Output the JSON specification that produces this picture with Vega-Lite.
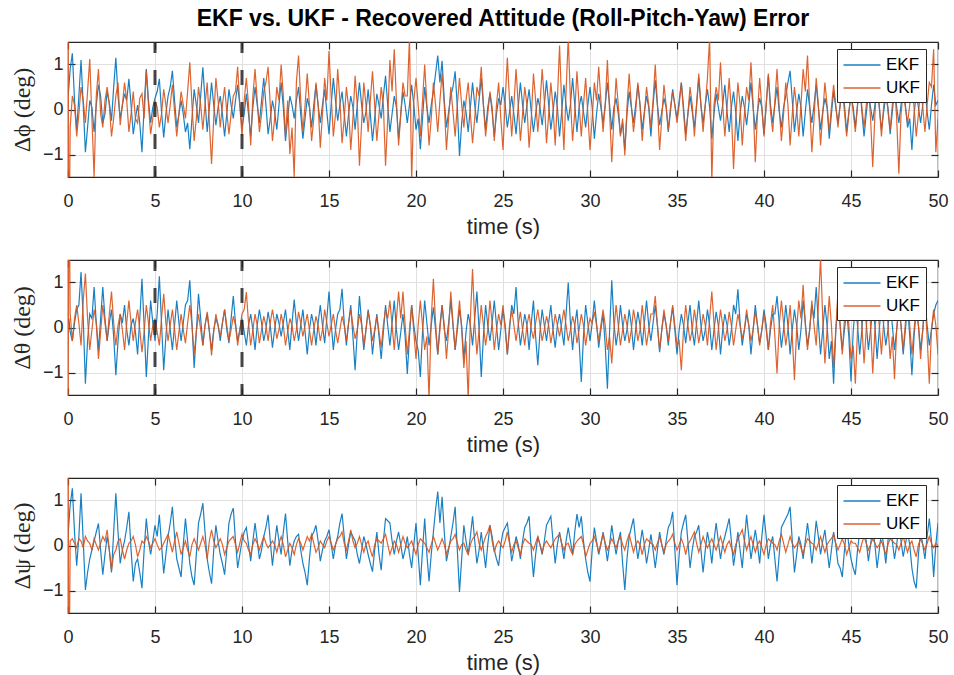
{
"$schema":"https://vega.github.io/schema/vega-lite/v6.json",
"background":"white",
"padding":{"left":9,"top":6,"right":10,"bottom":5},
"bounds":"flush",
"spacing":83,
"config":{
 "font":"Liberation Sans",
 "view":{"stroke":"#262626","strokeWidth":1.2},
 "axis":{"labelFont":"Liberation Sans","labelFontSize":18,"labelColor":"#262626","tickColor":"#262626","tickWidth":1.2,"tickSize":-7,"gridColor":"#e0e0e0","gridWidth":1,"domain":false,"titleFontWeight":"normal","titleColor":"#262626"}
},
"datasets":{
"p1":[
{"t":0,"e":0.3,"u":4},{"t":0.05,"e":0.5,"u":-4},{"t":0.125,"e":0.9,"u":-0.4},{"t":0.25,"e":1.25,"u":0.3},{"t":0.375,"e":0.2,"u":0.1},{"t":0.5,"e":-0.45,"u":-0.6},{"t":0.625,"e":0.3,"u":-0.1},{"t":0.75,"e":1.1,"u":0.5},{"t":0.875,"e":0.1,"u":0.2},{"t":1,"e":-0.95,"u":-0.3},{"t":1.125,"e":-0.4,"u":0.4},{"t":1.25,"e":0.2,"u":1.12},{"t":1.375,"e":0.05,"u":-0.2},{"t":1.5,"e":-0.5,"u":-1.5},{"t":1.625,"e":0.1,"u":0.3},{"t":1.75,"e":0.55,"u":0.9},{"t":1.875,"e":0.3,"u":-0.1},{"t":2,"e":-0.3,"u":-0.4},{"t":2.125,"e":-0.1,"u":0.2},{"t":2.25,"e":0.4,"u":0.5},{"t":2.375,"e":0.15,"u":0.1},{"t":2.5,"e":-0.25,"u":-0.6},{"t":2.625,"e":0.5,"u":-0.2},{"t":2.75,"e":1.15,"u":0.3},{"t":2.875,"e":0.3,"u":0.6},{"t":3,"e":-0.2,"u":-0.35},{"t":3.125,"e":0.1,"u":0.1},{"t":3.25,"e":0.35,"u":0.6},{"t":3.375,"e":0.2,"u":0.2},{"t":3.5,"e":0.68,"u":-0.5},{"t":3.625,"e":0.1,"u":-0.1},{"t":3.75,"e":-0.55,"u":0.4},{"t":3.875,"e":-0.2,"u":-0.2},{"t":4,"e":0.1,"u":-0.3},{"t":4.125,"e":-0.3,"u":0.25},{"t":4.25,"e":-0.95,"u":0.35},{"t":4.375,"e":0.05,"u":-0.2},{"t":4.5,"e":0.9,"u":0.86},{"t":4.625,"e":0.2,"u":0.1},{"t":4.75,"e":-0.3,"u":-0.55},{"t":4.875,"e":0.05,"u":-0.2},{"t":5,"e":0.25,"u":0.2},{"t":5.125,"e":0.4,"u":0.05},{"t":5.25,"e":0.68,"u":-0.4},{"t":5.375,"e":-0.05,"u":-0.1},{"t":5.5,"e":-0.62,"u":0.45},{"t":5.625,"e":-0.1,"u":0.1},{"t":5.75,"e":0.3,"u":-0.3},{"t":5.875,"e":0.5,"u":0.1},{"t":6,"e":0.86,"u":0.55},{"t":6.125,"e":0.2,"u":-0.05},{"t":6.25,"e":-0.4,"u":-0.6},{"t":6.375,"e":-0.1,"u":-0.1},{"t":6.5,"e":0.2,"u":0.4},{"t":6.625,"e":-0.1,"u":0.1},{"t":6.75,"e":-0.5,"u":-0.2},{"t":6.875,"e":-0.3,"u":0.4},{"t":7,"e":-0.88,"u":1.05},{"t":7.125,"e":-0.2,"u":0.1},{"t":7.25,"e":0.45,"u":-0.7},{"t":7.375,"e":0.1,"u":-0.2},{"t":7.5,"e":-0.3,"u":0.5},{"t":7.625,"e":0.3,"u":0.1},{"t":7.75,"e":0.94,"u":-0.45},{"t":7.875,"e":0.2,"u":0.1},{"t":8,"e":-0.5,"u":0.6},{"t":8.125,"e":0.05,"u":-0.3},{"t":8.25,"e":0.6,"u":-1.21},{"t":8.375,"e":0.1,"u":-0.2},{"t":8.5,"e":-0.35,"u":0.7},{"t":8.625,"e":0.05,"u":0.2},{"t":8.75,"e":0.3,"u":-0.4},{"t":8.875,"e":-0.1,"u":0.1},{"t":9,"e":-0.6,"u":0.5},{"t":9.125,"e":-0.1,"u":-0.05},{"t":9.25,"e":0.45,"u":-0.55},{"t":9.375,"e":0.1,"u":-0.1},{"t":9.5,"e":-0.2,"u":0.3},{"t":9.625,"e":0.2,"u":0.4},{"t":9.75,"e":0.55,"u":0.95},{"t":9.875,"e":0.1,"u":0.1},{"t":10,"e":-0.4,"u":-0.6},
{"t":10.125,"e":-0.1,"u":0.2},{"t":10.25,"e":0.35,"u":0.7},{"t":10.375,"e":-0.1,"u":0.1},{"t":10.5,"e":-0.6,"u":-0.8},{"t":10.625,"e":0.05,"u":0.3},{"t":10.75,"e":0.5,"u":0.9},{"t":10.875,"e":0.1,"u":0.2},{"t":11,"e":-0.3,"u":-0.5},{"t":11.125,"e":0.2,"u":-0.1},{"t":11.25,"e":0.7,"u":0.4},{"t":11.375,"e":0.1,"u":0.6},{"t":11.5,"e":-0.55,"u":0.95},{"t":11.625,"e":-0.2,"u":0.1},{"t":11.75,"e":0.2,"u":-0.7},{"t":11.875,"e":-0.05,"u":-0.2},{"t":12,"e":-0.45,"u":0.5},{"t":12.125,"e":0.1,"u":0.2},{"t":12.25,"e":0.6,"u":1.0},{"t":12.375,"e":0.05,"u":0.3},{"t":12.5,"e":-0.7,"u":-0.6},{"t":12.625,"e":-0.2,"u":0.2},{"t":12.75,"e":0.3,"u":-0.99},{"t":12.875,"e":0.1,"u":-0.4},{"t":13,"e":-0.2,"u":-1.5},{"t":13.125,"e":0.2,"u":0.6},{"t":13.25,"e":0.5,"u":1.2},{"t":13.375,"e":-0.1,"u":0.2},{"t":13.5,"e":-0.65,"u":-0.5},{"t":13.625,"e":-0.2,"u":0.1},{"t":13.75,"e":0.25,"u":0.8},{"t":13.875,"e":0.05,"u":0.1},{"t":14,"e":-0.4,"u":-0.7},{"t":14.125,"e":0.1,"u":-0.2},{"t":14.25,"e":0.55,"u":0.6},{"t":14.375,"e":0.1,"u":0.1},{"t":14.5,"e":-0.3,"u":-0.85},{"t":14.625,"e":0.1,"u":-0.1},{"t":14.75,"e":0.45,"u":0.7},{"t":14.875,"e":-0.05,"u":0.2},{"t":15,"e":-0.55,"u":1.3},{"t":15.125,"e":0.1,"u":0.3},{"t":15.25,"e":0.7,"u":-0.6},{"t":15.375,"e":0.2,"u":-0.1},{"t":15.5,"e":-0.25,"u":0.9},{"t":15.625,"e":0.1,"u":0.2},{"t":15.75,"e":0.4,"u":-0.75},{"t":15.875,"e":-0.1,"u":-0.2},{"t":16,"e":-0.6,"u":0.5},{"t":16.125,"e":-0.1,"u":0.05},{"t":16.25,"e":0.3,"u":-0.9},{"t":16.375,"e":0.05,"u":-0.2},{"t":16.5,"e":-0.45,"u":0.75},{"t":16.625,"e":0.1,"u":0.1},{"t":16.75,"e":0.6,"u":-1.25},{"t":16.875,"e":0.1,"u":-0.3},{"t":17,"e":-0.3,"u":0.6},{"t":17.125,"e":-0.05,"u":0.1},{"t":17.25,"e":0.45,"u":-0.5},{"t":17.375,"e":-0.1,"u":0.2},{"t":17.5,"e":-0.7,"u":0.85},{"t":17.625,"e":-0.2,"u":0.1},{"t":17.75,"e":0.35,"u":-0.7},{"t":17.875,"e":0.1,"u":-0.1},{"t":18,"e":-0.2,"u":0.5},{"t":18.125,"e":0.3,"u":0.1},{"t":18.25,"e":0.75,"u":-1.25},{"t":18.375,"e":0.1,"u":-0.2},{"t":18.5,"e":-0.5,"u":1.1},{"t":18.625,"e":-0.1,"u":0.4},{"t":18.75,"e":0.3,"u":1.34},{"t":18.875,"e":0.05,"u":0.2},{"t":19,"e":-0.65,"u":-0.8},{"t":19.125,"e":-0.1,"u":-0.1},{"t":19.25,"e":0.4,"u":0.6},{"t":19.375,"e":0.1,"u":0.3},{"t":19.5,"e":-0.3,"u":0.3},{"t":19.625,"e":0.1,"u":1.6},{"t":19.75,"e":0.55,"u":-1.6},{"t":19.875,"e":0.1,"u":0.2},{"t":20,"e":-0.45,"u":0.7},
{"t":20.125,"e":-0.2,"u":0.1},{"t":20.25,"e":-0.88,"u":-0.6},{"t":20.375,"e":-0.2,"u":0.2},{"t":20.5,"e":0.5,"u":1.0},{"t":20.625,"e":0.05,"u":0.1},{"t":20.75,"e":-0.3,"u":-0.8},{"t":20.875,"e":0.1,"u":-0.2},{"t":21,"e":0.4,"u":0.6},{"t":21.125,"e":0.8,"u":0.1},{"t":21.25,"e":1.2,"u":-0.5},{"t":21.375,"e":0.6,"u":0.2},{"t":21.5,"e":1.08,"u":0.8},{"t":21.625,"e":0.2,"u":0.1},{"t":21.75,"e":-0.4,"u":-0.9},{"t":21.875,"e":-0.05,"u":-0.2},{"t":22,"e":0.3,"u":0.5},{"t":22.125,"e":0.5,"u":-0.05},{"t":22.25,"e":0.85,"u":-0.6},{"t":22.375,"e":0.05,"u":0.1},{"t":22.5,"e":-1.03,"u":0.7},{"t":22.625,"e":-0.3,"u":0.1},{"t":22.75,"e":0.2,"u":-0.4},{"t":22.875,"e":-0.05,"u":0.2},{"t":23,"e":-0.5,"u":0.6},{"t":23.125,"e":0.05,"u":-0.1},{"t":23.25,"e":0.6,"u":-0.75},{"t":23.375,"e":0.1,"u":-0.2},{"t":23.5,"e":-0.3,"u":0.5},{"t":23.625,"e":0.2,"u":0.3},{"t":23.75,"e":0.7,"u":0.95},{"t":23.875,"e":0.1,"u":0.1},{"t":24,"e":-0.45,"u":-0.6},{"t":24.125,"e":0.05,"u":-0.1},{"t":24.25,"e":0.35,"u":0.4},{"t":24.375,"e":-0.05,"u":0.05},{"t":24.5,"e":-0.6,"u":-0.7},{"t":24.625,"e":-0.1,"u":0.1},{"t":24.75,"e":0.25,"u":0.6},{"t":24.875,"e":0.1,"u":-0.2},{"t":25,"e":0.5,"u":-0.9},{"t":25.125,"e":0.1,"u":0.2},{"t":25.25,"e":-0.4,"u":1.15},{"t":25.375,"e":-0.05,"u":0.2},{"t":25.5,"e":0.3,"u":-0.6},{"t":25.625,"e":-0.1,"u":0.1},{"t":25.75,"e":-0.55,"u":0.9},{"t":25.875,"e":0.05,"u":0.1},{"t":26,"e":0.6,"u":-0.7},{"t":26.125,"e":0.1,"u":-0.1},{"t":26.25,"e":-0.3,"u":0.5},{"t":26.375,"e":0.1,"u":0.1},{"t":26.5,"e":0.45,"u":-0.85},{"t":26.625,"e":-0.05,"u":-0.2},{"t":26.75,"e":-0.5,"u":0.8},{"t":26.875,"e":-0.1,"u":0.2},{"t":27,"e":0.25,"u":-0.5},{"t":27.125,"e":0.05,"u":0.1},{"t":27.25,"e":-0.35,"u":0.9},{"t":27.375,"e":0.1,"u":0.2},{"t":27.5,"e":0.65,"u":-0.75},{"t":27.625,"e":0.1,"u":-0.1},{"t":27.75,"e":-0.45,"u":0.6},{"t":27.875,"e":-0.05,"u":0.05},{"t":28,"e":0.4,"u":-0.8},{"t":28.125,"e":0.05,"u":0.2},{"t":28.25,"e":-0.6,"u":1.42},{"t":28.375,"e":-0.05,"u":0.1},{"t":28.5,"e":0.55,"u":-0.9},{"t":28.625,"e":0.1,"u":0.4},{"t":28.75,"e":-0.25,"u":1.6},{"t":28.875,"e":0.1,"u":0.2},{"t":29,"e":0.7,"u":-0.7},{"t":29.125,"e":0.1,"u":-0.05},{"t":29.25,"e":-0.5,"u":0.85},{"t":29.375,"e":0.05,"u":0.1},{"t":29.5,"e":0.3,"u":-0.6},{"t":29.625,"e":-0.05,"u":0.1},{"t":29.75,"e":-0.4,"u":0.7},{"t":29.875,"e":0.1,"u":-0.1},{"t":30,"e":0.5,"u":-0.9},
{"t":30.125,"e":0.05,"u":-0.2},{"t":30.25,"e":-0.65,"u":0.6},{"t":30.375,"e":-0.1,"u":0.2},{"t":30.5,"e":0.35,"u":0.95},{"t":30.625,"e":0.05,"u":0.2},{"t":30.75,"e":-0.3,"u":-0.5},{"t":30.875,"e":0.1,"u":0.1},{"t":31,"e":0.6,"u":1.1},{"t":31.125,"e":0.1,"u":-0.05},{"t":31.25,"e":-0.45,"u":-1.17},{"t":31.375,"e":0.05,"u":-0.2},{"t":31.5,"e":0.25,"u":0.7},{"t":31.625,"e":-0.1,"u":0.1},{"t":31.75,"e":-0.55,"u":-0.6},{"t":31.875,"e":-0.3,"u":-0.2},{"t":32,"e":-0.9,"u":-1.02},{"t":32.125,"e":-0.1,"u":0.05},{"t":32.25,"e":0.4,"u":0.8},{"t":32.375,"e":0.05,"u":0.1},{"t":32.5,"e":-0.3,"u":-0.5},{"t":32.625,"e":0.1,"u":-0.05},{"t":32.75,"e":0.55,"u":0.6},{"t":32.875,"e":0.1,"u":0.1},{"t":33,"e":-0.45,"u":-0.7},{"t":33.125,"e":-0.05,"u":-0.1},{"t":33.25,"e":0.3,"u":0.5},{"t":33.375,"e":0.05,"u":0.1},{"t":33.5,"e":-0.6,"u":-0.4},{"t":33.625,"e":0.1,"u":0.2},{"t":33.75,"e":0.65,"u":1.0},{"t":33.875,"e":0.1,"u":0.1},{"t":34,"e":-0.35,"u":-0.9},{"t":34.125,"e":-0.05,"u":-0.2},{"t":34.25,"e":0.25,"u":0.55},{"t":34.375,"e":0.05,"u":0.1},{"t":34.5,"e":-0.5,"u":-0.45},{"t":34.625,"e":-0.05,"u":0.05},{"t":34.75,"e":0.45,"u":0.4},{"t":34.875,"e":0.1,"u":0.1},{"t":35,"e":-0.2,"u":-0.3},{"t":35.125,"e":0.2,"u":0.1},{"t":35.25,"e":0.6,"u":0.6},{"t":35.375,"e":0.05,"u":-0.05},{"t":35.5,"e":-0.55,"u":-0.7},{"t":35.625,"e":-0.1,"u":-0.1},{"t":35.75,"e":0.3,"u":0.5},{"t":35.875,"e":-0.05,"u":0.1},{"t":36,"e":-0.4,"u":-0.6},{"t":36.125,"e":0.1,"u":0.1},{"t":36.25,"e":0.7,"u":0.8},{"t":36.375,"e":0.1,"u":0.1},{"t":36.5,"e":-0.3,"u":-0.5},{"t":36.625,"e":0.1,"u":0.1},{"t":36.75,"e":0.45,"u":0.7},{"t":36.875,"e":0.05,"u":1.6},{"t":37,"e":-0.65,"u":-1.6},{"t":37.125,"e":-0.1,"u":0.1},{"t":37.25,"e":0.35,"u":0.5},{"t":37.375,"e":0.05,"u":0.2},{"t":37.5,"e":-0.25,"u":1.05},{"t":37.625,"e":0.1,"u":0.1},{"t":37.75,"e":0.55,"u":-0.6},{"t":37.875,"e":-0.05,"u":0.05},{"t":38,"e":-0.5,"u":0.7},{"t":38.125,"e":0.05,"u":-0.05},{"t":38.25,"e":0.4,"u":-1.32},{"t":38.375,"e":-0.05,"u":-0.2},{"t":38.5,"e":-0.7,"u":0.6},{"t":38.625,"e":-0.1,"u":0.1},{"t":38.75,"e":0.3,"u":-0.8},{"t":38.875,"e":0.05,"u":-0.1},{"t":39,"e":-0.35,"u":0.5},{"t":39.125,"e":0.1,"u":0.2},{"t":39.25,"e":0.6,"u":1.05},{"t":39.375,"e":0.05,"u":0.1},{"t":39.5,"e":-0.45,"u":-1.17},{"t":39.625,"e":-0.05,"u":-0.1},{"t":39.75,"e":0.25,"u":0.7},{"t":39.875,"e":0.05,"u":0.05},{"t":40,"e":-0.55,"u":-0.6},
{"t":40.125,"e":0.1,"u":0.1},{"t":40.25,"e":0.75,"u":0.8},{"t":40.375,"e":0.1,"u":-0.05},{"t":40.5,"e":-0.3,"u":-0.5},{"t":40.625,"e":0.1,"u":0.2},{"t":40.75,"e":0.5,"u":0.9},{"t":40.875,"e":-0.05,"u":0.05},{"t":41,"e":-0.4,"u":-0.7},{"t":41.125,"e":0.05,"u":-0.1},{"t":41.25,"e":0.3,"u":0.6},{"t":41.375,"e":0.6,"u":0.1},{"t":41.5,"e":0.86,"u":-0.8},{"t":41.625,"e":0.2,"u":-0.1},{"t":41.75,"e":-0.5,"u":0.5},{"t":41.875,"e":-0.05,"u":0.05},{"t":42,"e":0.35,"u":-0.6},{"t":42.125,"e":0.05,"u":0.1},{"t":42.25,"e":-0.6,"u":0.9},{"t":42.375,"e":-0.05,"u":0.4},{"t":42.5,"e":0.45,"u":1.2},{"t":42.625,"e":0.05,"u":0.1},{"t":42.75,"e":-0.3,"u":-0.95},{"t":42.875,"e":0.1,"u":-0.2},{"t":43,"e":0.55,"u":0.7},{"t":43.125,"e":0.05,"u":0.1},{"t":43.25,"e":-0.45,"u":-0.8},{"t":43.375,"e":-0.05,"u":-0.1},{"t":43.5,"e":0.25,"u":0.6},{"t":43.625,"e":0.05,"u":0.1},{"t":43.75,"e":-0.65,"u":-0.5},{"t":43.875,"e":-0.1,"u":0.05},{"t":44,"e":0.4,"u":0.55},{"t":44.125,"e":0.05,"u":0.1},{"t":44.25,"e":-0.3,"u":-0.4},{"t":44.375,"e":0.1,"u":0.1},{"t":44.5,"e":0.6,"u":0.5},{"t":44.625,"e":0.1,"u":-0.05},{"t":44.75,"e":-0.5,"u":-0.6},{"t":44.875,"e":-0.05,"u":-0.1},{"t":45,"e":0.3,"u":0.4},{"t":45.125,"e":0.05,"u":-0.05},{"t":45.25,"e":-0.4,"u":-0.5},{"t":45.375,"e":0.1,"u":0.1},{"t":45.5,"e":0.55,"u":0.6},{"t":45.625,"e":-0.05,"u":0.05},{"t":45.75,"e":-0.6,"u":-0.4},{"t":45.875,"e":-0.1,"u":0.1},{"t":46,"e":0.35,"u":0.5},{"t":46.125,"e":0.05,"u":-0.2},{"t":46.25,"e":-0.25,"u":-1.28},{"t":46.375,"e":0.1,"u":-0.1},{"t":46.5,"e":0.5,"u":0.7},{"t":46.625,"e":0.05,"u":0.1},{"t":46.75,"e":-0.45,"u":-0.6},{"t":46.875,"e":-0.05,"u":0.05},{"t":47,"e":0.3,"u":0.5},{"t":47.125,"e":0.05,"u":-0.05},{"t":47.25,"e":-0.55,"u":-0.45},{"t":47.375,"e":-0.05,"u":0.1},{"t":47.5,"e":0.45,"u":0.6},{"t":47.625,"e":0.05,"u":-0.2},{"t":47.75,"e":-0.3,"u":-1.43},{"t":47.875,"e":0.1,"u":-0.1},{"t":48,"e":0.6,"u":0.4},{"t":48.125,"e":0.1,"u":0.05},{"t":48.25,"e":-0.4,"u":-0.3},{"t":48.375,"e":-0.2,"u":0.1},{"t":48.5,"e":-0.9,"u":0.5},{"t":48.625,"e":-0.1,"u":0.05},{"t":48.75,"e":0.35,"u":-0.6},{"t":48.875,"e":0.05,"u":-0.1},{"t":49,"e":-0.3,"u":0.45},{"t":49.125,"e":0.1,"u":0.05},{"t":49.25,"e":0.5,"u":-0.5},{"t":49.375,"e":-0.05,"u":0.1},{"t":49.5,"e":-0.45,"u":0.6},{"t":49.625,"e":0.1,"u":0.5},{"t":49.75,"e":0.55,"u":1.34},{"t":49.875,"e":0.1,"u":-0.95},{"t":50,"e":0.2,"u":-0.2}
],
"p2":[
{"t":0,"e":0.1,"u":-4},{"t":0.05,"e":0.2,"u":4},{"t":0.125,"e":-0.1,"u":0.3},{"t":0.25,"e":-0.3,"u":-0.3},{"t":0.375,"e":0.1,"u":0.2},{"t":0.5,"e":0.4,"u":0.5},{"t":0.625,"e":0.5,"u":0.1},{"t":0.75,"e":1.23,"u":-0.4},{"t":0.875,"e":0.2,"u":0.6},{"t":1,"e":-1.25,"u":1.2},{"t":1.125,"e":-0.3,"u":0.2},{"t":1.25,"e":0.3,"u":-0.5},{"t":1.375,"e":0.2,"u":-0.05},{"t":1.5,"e":0.9,"u":0.4},{"t":1.625,"e":0.1,"u":0.1},{"t":1.75,"e":-0.5,"u":-0.7},{"t":1.875,"e":0.2,"u":-0.1},{"t":2,"e":0.9,"u":0.5},{"t":2.125,"e":0.2,"u":0.1},{"t":2.25,"e":-0.3,"u":-0.3},{"t":2.375,"e":0.1,"u":0.3},{"t":2.5,"e":0.4,"u":0.8},{"t":2.625,"e":-0.2,"u":0.1},{"t":2.75,"e":-1.06,"u":-0.4},{"t":2.875,"e":-0.3,"u":0.05},{"t":3,"e":0.3,"u":0.3},{"t":3.125,"e":0.1,"u":-0.05},{"t":3.25,"e":0.5,"u":-0.5},{"t":3.375,"e":-0.05,"u":0.1},{"t":3.5,"e":-0.4,"u":0.6},{"t":3.625,"e":0.05,"u":0.1},{"t":3.75,"e":0.2,"u":-0.3},{"t":3.875,"e":-0.1,"u":0.1},{"t":4,"e":-0.6,"u":0.4},{"t":4.125,"e":0.2,"u":-0.05},{"t":4.25,"e":1.08,"u":-0.55},{"t":4.375,"e":0.05,"u":-0.1},{"t":4.5,"e":-1.1,"u":0.5},{"t":4.625,"e":-0.2,"u":0.1},{"t":4.75,"e":0.6,"u":-0.3},{"t":4.875,"e":0.1,"u":0.05},{"t":5,"e":-0.3,"u":0.2},{"t":5.125,"e":0.3,"u":-0.1},{"t":5.25,"e":1.14,"u":-0.4},{"t":5.375,"e":0.1,"u":0.2},{"t":5.5,"e":-0.95,"u":0.75},{"t":5.625,"e":-0.2,"u":0.1},{"t":5.75,"e":0.4,"u":-0.3},{"t":5.875,"e":-0.05,"u":0.05},{"t":6,"e":-0.5,"u":0.4},{"t":6.125,"e":0.05,"u":-0.05},{"t":6.25,"e":0.6,"u":-0.5},{"t":6.375,"e":0.1,"u":-0.1},{"t":6.5,"e":-0.3,"u":0.3},{"t":6.625,"e":0.1,"u":-0.05},{"t":6.75,"e":0.5,"u":-0.35},{"t":6.875,"e":0.6,"u":0.1},{"t":7,"e":1.05,"u":0.5},{"t":7.125,"e":0.1,"u":0.05},{"t":7.25,"e":-0.9,"u":-0.6},{"t":7.375,"e":-0.1,"u":-0.1},{"t":7.5,"e":0.75,"u":0.3},{"t":7.625,"e":0.2,"u":-0.05},{"t":7.75,"e":-0.4,"u":-0.4},{"t":7.875,"e":0.05,"u":0.05},{"t":8,"e":0.3,"u":0.35},{"t":8.125,"e":-0.1,"u":-0.05},{"t":8.25,"e":-0.5,"u":-0.62},{"t":8.375,"e":-0.05,"u":-0.1},{"t":8.5,"e":0.2,"u":0.3},{"t":8.625,"e":0.05,"u":0.05},{"t":8.75,"e":-0.3,"u":-0.2},{"t":8.875,"e":0.1,"u":0.1},{"t":9,"e":0.4,"u":0.4},{"t":9.125,"e":-0.05,"u":0.05},{"t":9.25,"e":-0.35,"u":-0.3},{"t":9.375,"e":0.2,"u":-0.05},{"t":9.5,"e":0.7,"u":0.25},{"t":9.625,"e":0.1,"u":0.05},{"t":9.75,"e":-0.3,"u":-0.4},{"t":9.875,"e":-0.05,"u":-0.05},{"t":10,"e":0.2,"u":0.3},
{"t":10.125,"e":-0.1,"u":0.4},{"t":10.25,"e":-0.4,"u":0.79},{"t":10.375,"e":0.05,"u":0.1},{"t":10.5,"e":0.3,"u":-0.4},{"t":10.625,"e":-0.05,"u":-0.05},{"t":10.75,"e":-0.5,"u":0.3},{"t":10.875,"e":0.05,"u":0.05},{"t":11,"e":0.4,"u":-0.35},{"t":11.125,"e":0.1,"u":-0.05},{"t":11.25,"e":-0.3,"u":0.25},{"t":11.375,"e":-0.05,"u":0.05},{"t":11.5,"e":0.35,"u":-0.3},{"t":11.625,"e":0.05,"u":0.1},{"t":11.75,"e":-0.45,"u":0.4},{"t":11.875,"e":-0.05,"u":0.1},{"t":12,"e":0.3,"u":-0.25},{"t":12.125,"e":0.1,"u":-0.05},{"t":12.25,"e":-0.2,"u":0.3},{"t":12.375,"e":0.1,"u":0.05},{"t":12.5,"e":0.4,"u":-0.4},{"t":12.625,"e":-0.05,"u":-0.1},{"t":12.75,"e":-0.5,"u":0.2},{"t":12.875,"e":0.1,"u":0.05},{"t":13,"e":0.62,"u":-0.3},{"t":13.125,"e":0.1,"u":-0.05},{"t":13.25,"e":-0.3,"u":0.35},{"t":13.375,"e":0.05,"u":0.1},{"t":13.5,"e":0.4,"u":-0.2},{"t":13.625,"e":-0.1,"u":0.05},{"t":13.75,"e":-0.6,"u":0.3},{"t":13.875,"e":-0.05,"u":-0.05},{"t":14,"e":0.3,"u":-0.4},{"t":14.125,"e":0.05,"u":-0.05},{"t":14.25,"e":-0.4,"u":0.25},{"t":14.375,"e":0.1,"u":0.05},{"t":14.5,"e":0.5,"u":-0.3},{"t":14.625,"e":0.05,"u":-0.05},{"t":14.75,"e":-0.35,"u":0.4},{"t":14.875,"e":0.2,"u":0.1},{"t":15,"e":0.8,"u":-0.2},{"t":15.125,"e":0.1,"u":0.05},{"t":15.25,"e":-0.5,"u":0.3},{"t":15.375,"e":-0.05,"u":-0.05},{"t":15.5,"e":0.3,"u":-0.35},{"t":15.625,"e":0.4,"u":-0.05},{"t":15.75,"e":0.86,"u":0.25},{"t":15.875,"e":0.1,"u":0.05},{"t":16,"e":-0.4,"u":-0.3},{"t":16.125,"e":0.1,"u":0.1},{"t":16.25,"e":0.5,"u":0.4},{"t":16.375,"e":-0.2,"u":0.05},{"t":16.5,"e":-0.95,"u":-0.25},{"t":16.625,"e":-0.1,"u":-0.05},{"t":16.75,"e":0.7,"u":0.3},{"t":16.875,"e":0.1,"u":0.05},{"t":17,"e":-0.5,"u":-0.4},{"t":17.125,"e":-0.05,"u":-0.05},{"t":17.25,"e":0.4,"u":0.35},{"t":17.375,"e":0.05,"u":0.05},{"t":17.5,"e":-0.6,"u":-0.3},{"t":17.625,"e":-0.1,"u":-0.05},{"t":17.75,"e":0.3,"u":0.25},{"t":17.875,"e":-0.2,"u":-0.1},{"t":18,"e":-0.7,"u":-0.45},{"t":18.125,"e":-0.1,"u":0.05},{"t":18.25,"e":0.5,"u":0.4},{"t":18.375,"e":0.05,"u":0.2},{"t":18.5,"e":-0.4,"u":0.6},{"t":18.625,"e":0.1,"u":0.05},{"t":18.75,"e":0.6,"u":-0.5},{"t":18.875,"e":-0.05,"u":0.2},{"t":19,"e":-0.5,"u":0.8},{"t":19.125,"e":-0.1,"u":0.2},{"t":19.25,"e":0.3,"u":0.8},{"t":19.375,"e":-0.2,"u":0.05},{"t":19.5,"e":-1.03,"u":-0.6},{"t":19.625,"e":-0.2,"u":-0.05},{"t":19.75,"e":0.5,"u":0.5},{"t":19.875,"e":0.05,"u":-0.1},{"t":20,"e":-0.3,"u":-0.7},
{"t":20.125,"e":-0.5,"u":0.05},{"t":20.25,"e":-1.1,"u":0.6},{"t":20.375,"e":-0.1,"u":0.05},{"t":20.5,"e":0.6,"u":-0.5},{"t":20.625,"e":0.1,"u":-0.2},{"t":20.75,"e":-0.4,"u":-1.6},{"t":20.875,"e":0.05,"u":0.2},{"t":21,"e":0.45,"u":1.08},{"t":21.125,"e":-0.05,"u":0.1},{"t":21.25,"e":-0.6,"u":-0.6},{"t":21.375,"e":0.05,"u":-0.05},{"t":21.5,"e":0.5,"u":0.5},{"t":21.625,"e":-0.05,"u":0.05},{"t":21.75,"e":-0.3,"u":-0.7},{"t":21.875,"e":0.1,"u":-0.05},{"t":22,"e":0.6,"u":0.8},{"t":22.125,"e":0.05,"u":0.1},{"t":22.25,"e":-0.5,"u":-0.5},{"t":22.375,"e":-0.05,"u":0.05},{"t":22.5,"e":0.4,"u":0.6},{"t":22.625,"e":0.05,"u":-0.05},{"t":22.75,"e":-0.7,"u":-0.9},{"t":22.875,"e":-0.1,"u":-0.3},{"t":23,"e":0.3,"u":-1.6},{"t":23.125,"e":0.05,"u":0.2},{"t":23.25,"e":-0.4,"u":1.3},{"t":23.375,"e":0.2,"u":0.1},{"t":23.5,"e":0.8,"u":-0.6},{"t":23.625,"e":-0.05,"u":-0.05},{"t":23.75,"e":-1.1,"u":0.5},{"t":23.875,"e":-0.2,"u":0.05},{"t":24,"e":0.5,"u":-0.4},{"t":24.125,"e":0.05,"u":-0.05},{"t":24.25,"e":-0.3,"u":0.6},{"t":24.375,"e":0.1,"u":0.1},{"t":24.5,"e":0.6,"u":-0.5},{"t":24.625,"e":0.05,"u":-0.05},{"t":24.75,"e":-0.5,"u":0.3},{"t":24.875,"e":-0.05,"u":0.05},{"t":25,"e":0.4,"u":0.5},{"t":25.125,"e":0.05,"u":-0.05},{"t":25.25,"e":-0.6,"u":-0.6},{"t":25.375,"e":-0.05,"u":0.05},{"t":25.5,"e":0.5,"u":0.4},{"t":25.625,"e":0.3,"u":0.05},{"t":25.75,"e":0.9,"u":-0.3},{"t":25.875,"e":0.1,"u":0.05},{"t":26,"e":-0.4,"u":0.35},{"t":26.125,"e":-0.05,"u":-0.05},{"t":26.25,"e":0.3,"u":-0.4},{"t":26.375,"e":0.05,"u":0.05},{"t":26.5,"e":-0.5,"u":0.3},{"t":26.625,"e":0.1,"u":-0.05},{"t":26.75,"e":0.6,"u":-0.25},{"t":26.875,"e":-0.2,"u":0.1},{"t":27,"e":-0.84,"u":0.4},{"t":27.125,"e":-0.1,"u":0.05},{"t":27.25,"e":0.4,"u":-0.3},{"t":27.375,"e":0.05,"u":-0.05},{"t":27.5,"e":-0.3,"u":0.25},{"t":27.625,"e":0.1,"u":0.05},{"t":27.75,"e":0.5,"u":-0.35},{"t":27.875,"e":-0.05,"u":-0.05},{"t":28,"e":-0.45,"u":0.3},{"t":28.125,"e":0.05,"u":0.05},{"t":28.25,"e":0.3,"u":-0.2},{"t":28.375,"e":-0.05,"u":0.1},{"t":28.5,"e":-0.4,"u":0.4},{"t":28.625,"e":0.3,"u":0.05},{"t":28.75,"e":1.0,"u":-0.3},{"t":28.875,"e":0.1,"u":-0.05},{"t":29,"e":-0.5,"u":0.25},{"t":29.125,"e":0.05,"u":0.05},{"t":29.25,"e":0.4,"u":-0.35},{"t":29.375,"e":-0.3,"u":-0.05},{"t":29.5,"e":-1.21,"u":0.3},{"t":29.625,"e":-0.2,"u":0.05},{"t":29.75,"e":0.5,"u":-0.4},{"t":29.875,"e":0.1,"u":-0.05},{"t":30,"e":-0.3,"u":0.2},
{"t":30.125,"e":0.1,"u":0.1},{"t":30.25,"e":0.6,"u":0.35},{"t":30.375,"e":0.1,"u":0.05},{"t":30.5,"e":-0.45,"u":-0.3},{"t":30.625,"e":-0.05,"u":0.05},{"t":30.75,"e":0.3,"u":0.4},{"t":30.875,"e":-0.4,"u":0.05},{"t":31,"e":-1.36,"u":-0.5},{"t":31.125,"e":-0.1,"u":-0.2},{"t":31.25,"e":1.05,"u":-0.8},{"t":31.375,"e":0.1,"u":-0.05},{"t":31.5,"e":-0.4,"u":0.5},{"t":31.625,"e":-0.05,"u":0.05},{"t":31.75,"e":0.5,"u":-0.4},{"t":31.875,"e":0.05,"u":-0.05},{"t":32,"e":-0.3,"u":0.3},{"t":32.125,"e":-0.05,"u":0.05},{"t":32.25,"e":0.4,"u":-0.35},{"t":32.375,"e":0.05,"u":-0.05},{"t":32.5,"e":-0.5,"u":0.4},{"t":32.625,"e":-0.05,"u":0.1},{"t":32.75,"e":0.35,"u":-0.3},{"t":32.875,"e":0.05,"u":-0.05},{"t":33,"e":-0.4,"u":0.5},{"t":33.125,"e":0.1,"u":0.05},{"t":33.25,"e":0.6,"u":-0.4},{"t":33.375,"e":0.05,"u":-0.05},{"t":33.5,"e":-0.3,"u":0.3},{"t":33.625,"e":0.1,"u":0.3},{"t":33.75,"e":0.5,"u":0.7},{"t":33.875,"e":0.05,"u":0.05},{"t":34,"e":-0.55,"u":-0.5},{"t":34.125,"e":-0.05,"u":-0.05},{"t":34.25,"e":0.3,"u":0.4},{"t":34.375,"e":0.05,"u":0.05},{"t":34.5,"e":-0.4,"u":-0.3},{"t":34.625,"e":0.1,"u":0.1},{"t":34.75,"e":0.45,"u":0.5},{"t":34.875,"e":-0.05,"u":0.05},{"t":35,"e":-0.6,"u":-0.4},{"t":35.125,"e":-0.05,"u":-0.3},{"t":35.25,"e":0.3,"u":-0.95},{"t":35.375,"e":0.05,"u":-0.05},{"t":35.5,"e":-0.35,"u":0.5},{"t":35.625,"e":0.1,"u":0.05},{"t":35.75,"e":0.5,"u":-0.3},{"t":35.875,"e":-0.05,"u":-0.05},{"t":36,"e":-0.4,"u":0.4},{"t":36.125,"e":0.1,"u":0.05},{"t":36.25,"e":0.6,"u":-0.35},{"t":36.375,"e":0.05,"u":-0.05},{"t":36.5,"e":-0.3,"u":0.3},{"t":36.625,"e":-0.05,"u":0.05},{"t":36.75,"e":0.4,"u":-0.4},{"t":36.875,"e":0.05,"u":0.2},{"t":37,"e":-0.5,"u":0.8},{"t":37.125,"e":-0.05,"u":0.1},{"t":37.25,"e":0.35,"u":-0.5},{"t":37.375,"e":0.05,"u":-0.05},{"t":37.5,"e":-0.6,"u":0.4},{"t":37.625,"e":-0.05,"u":0.05},{"t":37.75,"e":0.3,"u":-0.3},{"t":37.875,"e":0.05,"u":-0.05},{"t":38,"e":-0.4,"u":0.35},{"t":38.125,"e":-0.05,"u":0.05},{"t":38.25,"e":0.5,"u":-0.4},{"t":38.375,"e":0.3,"u":-0.05},{"t":38.5,"e":0.85,"u":0.3},{"t":38.625,"e":0.1,"u":0.05},{"t":38.75,"e":-0.4,"u":-0.25},{"t":38.875,"e":-0.05,"u":-0.05},{"t":39,"e":0.3,"u":0.4},{"t":39.125,"e":0.05,"u":0.05},{"t":39.25,"e":-0.6,"u":-0.3},{"t":39.375,"e":-0.05,"u":-0.05},{"t":39.5,"e":0.5,"u":0.35},{"t":39.625,"e":0.05,"u":0.05},{"t":39.75,"e":-0.35,"u":-0.4},{"t":39.875,"e":-0.05,"u":-0.05},{"t":40,"e":0.4,"u":0.3},
{"t":40.125,"e":0.05,"u":-0.05},{"t":40.25,"e":-0.5,"u":-0.5},{"t":40.375,"e":-0.05,"u":0.1},{"t":40.5,"e":0.3,"u":0.5},{"t":40.625,"e":0.3,"u":-0.2},{"t":40.75,"e":0.7,"u":-1.02},{"t":40.875,"e":0.1,"u":0.05},{"t":41,"e":-0.45,"u":0.6},{"t":41.125,"e":-0.05,"u":0.1},{"t":41.25,"e":0.5,"u":-0.4},{"t":41.375,"e":0.05,"u":-0.05},{"t":41.5,"e":-0.6,"u":0.5},{"t":41.625,"e":-0.05,"u":-0.2},{"t":41.75,"e":0.4,"u":-1.17},{"t":41.875,"e":0.05,"u":-0.05},{"t":42,"e":-0.5,"u":0.6},{"t":42.125,"e":-0.05,"u":0.2},{"t":42.25,"e":0.6,"u":0.95},{"t":42.375,"e":0.1,"u":0.05},{"t":42.5,"e":-0.4,"u":-0.5},{"t":42.625,"e":-0.05,"u":-0.05},{"t":42.75,"e":0.5,"u":0.6},{"t":42.875,"e":0.2,"u":0.05},{"t":43,"e":0.9,"u":-0.4},{"t":43.125,"e":0.1,"u":0.5},{"t":43.25,"e":-0.6,"u":1.55},{"t":43.375,"e":-0.05,"u":0.2},{"t":43.5,"e":0.5,"u":-0.8},{"t":43.625,"e":0.05,"u":-0.05},{"t":43.75,"e":-0.7,"u":0.7},{"t":43.875,"e":-0.3,"u":0.05},{"t":44,"e":-1.25,"u":-0.9},{"t":44.125,"e":-0.1,"u":-0.05},{"t":44.25,"e":0.6,"u":0.8},{"t":44.375,"e":0.05,"u":0.05},{"t":44.5,"e":-0.5,"u":-0.6},{"t":44.625,"e":-0.05,"u":0.2},{"t":44.75,"e":0.4,"u":0.9},{"t":44.875,"e":-0.2,"u":0.05},{"t":45,"e":-1.2,"u":-0.7},{"t":45.125,"e":-0.1,"u":-0.4},{"t":45.25,"e":0.5,"u":-1.25},{"t":45.375,"e":0.05,"u":-0.05},{"t":45.5,"e":-0.6,"u":0.6},{"t":45.625,"e":-0.05,"u":0.05},{"t":45.75,"e":0.7,"u":-0.8},{"t":45.875,"e":0.1,"u":-0.05},{"t":46,"e":-0.5,"u":0.7},{"t":46.125,"e":-0.05,"u":0.05},{"t":46.25,"e":0.4,"u":-1.02},{"t":46.375,"e":0.05,"u":-0.05},{"t":46.5,"e":-0.7,"u":0.5},{"t":46.625,"e":-0.05,"u":0.05},{"t":46.75,"e":0.5,"u":-0.6},{"t":46.875,"e":0.05,"u":0.1},{"t":47,"e":-0.4,"u":0.8},{"t":47.125,"e":-0.05,"u":0.05},{"t":47.25,"e":0.6,"u":-0.7},{"t":47.375,"e":0.05,"u":-0.2},{"t":47.5,"e":-0.5,"u":-1.15},{"t":47.625,"e":-0.05,"u":-0.05},{"t":47.75,"e":0.4,"u":0.6},{"t":47.875,"e":0.05,"u":0.05},{"t":48,"e":-0.6,"u":-0.5},{"t":48.125,"e":-0.05,"u":0.1},{"t":48.25,"e":0.5,"u":0.7},{"t":48.375,"e":-0.2,"u":0.05},{"t":48.5,"e":-1.06,"u":-0.6},{"t":48.625,"e":-0.2,"u":-0.05},{"t":48.75,"e":0.4,"u":0.5},{"t":48.875,"e":0.05,"u":0.05},{"t":49,"e":-0.5,"u":-0.7},{"t":49.125,"e":-0.05,"u":-0.05},{"t":49.25,"e":0.6,"u":0.6},{"t":49.375,"e":0.05,"u":-0.2},{"t":49.5,"e":-0.4,"u":-1.25},{"t":49.625,"e":-0.05,"u":-0.05},{"t":49.75,"e":0.3,"u":0.4},{"t":49.875,"e":0.5,"u":0.05},{"t":50,"e":0.6,"u":-0.6}
],
"p3":[
{"t":0,"e":0.2,"u":4},{"t":0.05,"e":0.5,"u":-4},{"t":0.125,"e":0.9,"u":0.1},{"t":0.25,"e":1.27,"u":0.15},{"t":0.375,"e":0.3,"u":0.05},{"t":0.5,"e":-0.45,"u":-0.05},{"t":0.625,"e":0.2,"u":0.15},{"t":0.75,"e":1.16,"u":0.1},{"t":0.875,"e":0.1,"u":-0.05},{"t":1,"e":-0.99,"u":0.2},{"t":1.125,"e":-0.6,"u":0.1},{"t":1.25,"e":-0.3,"u":0.05},{"t":1.375,"e":-0.1,"u":-0.1},{"t":1.5,"e":0.1,"u":0.15},{"t":1.625,"e":0.3,"u":0.02},{"t":1.75,"e":0.49,"u":-0.1},{"t":1.875,"e":-0.1,"u":0.05},{"t":2,"e":-0.65,"u":0.2},{"t":2.125,"e":-0.2,"u":0.1},{"t":2.25,"e":0.2,"u":0.35},{"t":2.375,"e":-0.1,"u":-0.1},{"t":2.5,"e":-0.6,"u":-0.55},{"t":2.625,"e":0.3,"u":-0.2},{"t":2.75,"e":1.16,"u":-0.1},{"t":2.875,"e":0.3,"u":0.1},{"t":3,"e":-0.4,"u":0.15},{"t":3.125,"e":-0.1,"u":-0.1},{"t":3.25,"e":0.1,"u":-0.3},{"t":3.375,"e":0.4,"u":-0.1},{"t":3.5,"e":0.75,"u":0.05},{"t":3.625,"e":-0.1,"u":0.1},{"t":3.75,"e":-0.8,"u":0.2},{"t":3.875,"e":-0.4,"u":0.02},{"t":4,"e":-0.3,"u":-0.25},{"t":4.125,"e":-0.6,"u":-0.1},{"t":4.25,"e":-0.95,"u":0.1},{"t":4.375,"e":-0.1,"u":0.05},{"t":4.5,"e":0.6,"u":0.2},{"t":4.625,"e":0.1,"u":0.1},{"t":4.75,"e":-0.2,"u":-0.05},{"t":4.875,"e":0.1,"u":0.05},{"t":5,"e":0.45,"u":0.15},{"t":5.125,"e":0.2,"u":0.02},{"t":5.25,"e":0.68,"u":-0.1},{"t":5.375,"e":0.02,"u":-0.05},{"t":5.5,"e":-0.62,"u":0.05},{"t":5.625,"e":-0.2,"u":0.15},{"t":5.75,"e":0.2,"u":0.25},{"t":5.875,"e":0.5,"u":0.05},{"t":6,"e":0.86,"u":-0.15},{"t":6.125,"e":0.2,"u":0.1},{"t":6.25,"e":-0.3,"u":0.3},{"t":6.375,"e":-0.5,"u":0.05},{"t":6.5,"e":-0.7,"u":-0.2},{"t":6.625,"e":0.02,"u":-0.05},{"t":6.75,"e":0.6,"u":0.1},{"t":6.875,"e":0.1,"u":-0.1},{"t":7,"e":-0.4,"u":-0.25},{"t":7.125,"e":-0.7,"u":0.02},{"t":7.25,"e":-0.88,"u":0.15},{"t":7.375,"e":-0.2,"u":0.02},{"t":7.5,"e":0.5,"u":-0.1},{"t":7.625,"e":0.7,"u":0.05},{"t":7.75,"e":0.94,"u":0.2},{"t":7.875,"e":0.3,"u":0.02},{"t":8,"e":-0.3,"u":-0.3},{"t":8.125,"e":-0.6,"u":0.1},{"t":8.25,"e":-0.85,"u":0.35},{"t":8.375,"e":-0.1,"u":0.1},{"t":8.5,"e":0.45,"u":-0.05},{"t":8.625,"e":0.1,"u":0.05},{"t":8.75,"e":-0.2,"u":0.15},{"t":8.875,"e":-0.4,"u":0.02},{"t":9,"e":-0.65,"u":-0.2},{"t":9.125,"e":-0.1,"u":-0.05},{"t":9.25,"e":0.5,"u":0.1},{"t":9.375,"e":0.7,"u":0.15},{"t":9.5,"e":0.83,"u":0.2},{"t":9.625,"e":0.1,"u":0.02},{"t":9.75,"e":-0.5,"u":-0.15},{"t":9.875,"e":-0.2,"u":0.05},{"t":10,"e":0.1,"u":0.25},
{"t":10.125,"e":0.3,"u":0.1},{"t":10.25,"e":0.4,"u":0.05},{"t":10.375,"e":0.02,"u":-0.1},{"t":10.5,"e":-0.35,"u":-0.2},{"t":10.625,"e":0.1,"u":0.02},{"t":10.75,"e":0.5,"u":0.15},{"t":10.875,"e":0.1,"u":0.05},{"t":11,"e":-0.3,"u":-0.1},{"t":11.125,"e":-0.1,"u":0.05},{"t":11.25,"e":0.2,"u":0.2},{"t":11.375,"e":0.4,"u":0.05},{"t":11.5,"e":0.68,"u":-0.05},{"t":11.625,"e":0.1,"u":0.02},{"t":11.75,"e":-0.45,"u":0.1},{"t":11.875,"e":0.02,"u":0.02},{"t":12,"e":0.45,"u":-0.15},{"t":12.125,"e":0.1,"u":0.05},{"t":12.25,"e":-0.2,"u":0.2},{"t":12.375,"e":0.3,"u":0.02},{"t":12.5,"e":0.71,"u":-0.25},{"t":12.625,"e":0.1,"u":-0.1},{"t":12.75,"e":-0.45,"u":0.05},{"t":12.875,"e":-0.1,"u":-0.05},{"t":13,"e":0.1,"u":-0.2},{"t":13.125,"e":0.2,"u":0.02},{"t":13.25,"e":0.25,"u":0.15},{"t":13.375,"e":-0.1,"u":0.05},{"t":13.5,"e":-0.4,"u":-0.1},{"t":13.625,"e":-0.6,"u":0.05},{"t":13.75,"e":-0.88,"u":0.2},{"t":13.875,"e":-0.3,"u":0.1},{"t":14,"e":0.2,"u":0.25},{"t":14.125,"e":0.3,"u":0.05},{"t":14.25,"e":0.45,"u":-0.15},{"t":14.375,"e":0.1,"u":-0.05},{"t":14.5,"e":-0.35,"u":0.1},{"t":14.625,"e":-0.1,"u":0.02},{"t":14.75,"e":0.1,"u":-0.05},{"t":14.875,"e":0.2,"u":0.1},{"t":15,"e":0.35,"u":0.2},{"t":15.125,"e":0.02,"u":0.05},{"t":15.25,"e":-0.3,"u":-0.1},{"t":15.375,"e":0.02,"u":0.02},{"t":15.5,"e":0.2,"u":0.15},{"t":15.625,"e":0.5,"u":0.2},{"t":15.75,"e":0.71,"u":0.3},{"t":15.875,"e":0.2,"u":0.05},{"t":16,"e":-0.3,"u":-0.1},{"t":16.125,"e":0.02,"u":0.1},{"t":16.25,"e":0.3,"u":0.35},{"t":16.375,"e":0.2,"u":0.1},{"t":16.5,"e":0.1,"u":-0.05},{"t":16.625,"e":-0.2,"u":0.05},{"t":16.75,"e":-0.4,"u":0.2},{"t":16.875,"e":-0.1,"u":0.02},{"t":17,"e":0.2,"u":-0.15},{"t":17.125,"e":0.02,"u":0.02},{"t":17.25,"e":-0.2,"u":0.1},{"t":17.375,"e":-0.4,"u":-0.1},{"t":17.5,"e":-0.58,"u":-0.25},{"t":17.625,"e":-0.1,"u":0.02},{"t":17.75,"e":0.3,"u":0.15},{"t":17.875,"e":-0.2,"u":0.1},{"t":18,"e":-0.55,"u":0.05},{"t":18.125,"e":0.1,"u":0.15},{"t":18.25,"e":0.6,"u":0.25},{"t":18.375,"e":0.55,"u":0.02},{"t":18.5,"e":0.5,"u":-0.2},{"t":18.625,"e":0.1,"u":-0.05},{"t":18.75,"e":-0.2,"u":0.1},{"t":18.875,"e":0.1,"u":0.02},{"t":19,"e":0.3,"u":-0.15},{"t":19.125,"e":0.02,"u":0.02},{"t":19.25,"e":-0.3,"u":0.2},{"t":19.375,"e":-0.1,"u":0.05},{"t":19.5,"e":0.2,"u":-0.05},{"t":19.625,"e":-0.2,"u":0.02},{"t":19.75,"e":-0.5,"u":0.1},{"t":19.875,"e":0.02,"u":-0.05},{"t":20,"e":0.5,"u":-0.2},
{"t":20.125,"e":-0.2,"u":0.02},{"t":20.25,"e":-0.88,"u":0.15},{"t":20.375,"e":-0.1,"u":0.1},{"t":20.5,"e":0.6,"u":0.05},{"t":20.625,"e":-0.2,"u":-0.05},{"t":20.75,"e":-0.8,"u":-0.15},{"t":20.875,"e":-0.2,"u":0.02},{"t":21,"e":0.3,"u":0.2},{"t":21.125,"e":0.8,"u":0.05},{"t":21.25,"e":1.2,"u":-0.1},{"t":21.375,"e":0.5,"u":0.02},{"t":21.5,"e":1.08,"u":0.15},{"t":21.625,"e":0.3,"u":0.02},{"t":21.75,"e":-0.35,"u":-0.2},{"t":21.875,"e":-0.1,"u":-0.05},{"t":22,"e":0.2,"u":0.1},{"t":22.125,"e":0.5,"u":0.15},{"t":22.25,"e":0.86,"u":0.25},{"t":22.375,"e":-0.1,"u":0.05},{"t":22.5,"e":-1.03,"u":-0.1},{"t":22.625,"e":-0.3,"u":0.02},{"t":22.75,"e":0.45,"u":0.05},{"t":22.875,"e":0.1,"u":-0.1},{"t":23,"e":-0.2,"u":-0.2},{"t":23.125,"e":0.2,"u":0.02},{"t":23.25,"e":0.65,"u":0.15},{"t":23.375,"e":0.1,"u":0.2},{"t":23.5,"e":-0.4,"u":0.3},{"t":23.625,"e":-0.1,"u":0.05},{"t":23.75,"e":0.3,"u":-0.1},{"t":23.875,"e":-0.1,"u":0.05},{"t":24,"e":-0.5,"u":0.2},{"t":24.125,"e":0.02,"u":0.3},{"t":24.25,"e":0.45,"u":0.45},{"t":24.375,"e":0.2,"u":0.1},{"t":24.5,"e":-0.1,"u":-0.15},{"t":24.625,"e":-0.3,"u":0.02},{"t":24.75,"e":-0.45,"u":0.1},{"t":24.875,"e":0.02,"u":0.02},{"t":25,"e":0.3,"u":-0.05},{"t":25.125,"e":0.4,"u":0.1},{"t":25.25,"e":0.5,"u":0.3},{"t":25.375,"e":0.1,"u":0.05},{"t":25.5,"e":-0.35,"u":-0.15},{"t":25.625,"e":-0.1,"u":0.02},{"t":25.75,"e":0.2,"u":0.1},{"t":25.875,"e":0.02,"u":-0.05},{"t":26,"e":-0.3,"u":-0.2},{"t":26.125,"e":0.1,"u":0.02},{"t":26.25,"e":0.4,"u":0.15},{"t":26.375,"e":0.5,"u":0.1},{"t":26.5,"e":0.65,"u":0.05},{"t":26.625,"e":-0.1,"u":0.02},{"t":26.75,"e":-0.7,"u":-0.1},{"t":26.875,"e":-0.2,"u":0.05},{"t":27,"e":0.2,"u":0.2},{"t":27.125,"e":0.02,"u":0.02},{"t":27.25,"e":-0.2,"u":-0.15},{"t":27.375,"e":0.1,"u":0.02},{"t":27.5,"e":0.45,"u":0.1},{"t":27.625,"e":0.55,"u":0.02},{"t":27.75,"e":0.65,"u":-0.05},{"t":27.875,"e":0.1,"u":0.05},{"t":28,"e":-0.4,"u":0.15},{"t":28.125,"e":0.02,"u":0.2},{"t":28.25,"e":0.3,"u":0.25},{"t":28.375,"e":0.02,"u":0.05},{"t":28.5,"e":-0.3,"u":-0.1},{"t":28.625,"e":0.1,"u":0.02},{"t":28.75,"e":0.4,"u":0.05},{"t":28.875,"e":0.1,"u":-0.1},{"t":29,"e":-0.2,"u":-0.2},{"t":29.125,"e":0.3,"u":0.02},{"t":29.25,"e":0.7,"u":0.1},{"t":29.375,"e":0.4,"u":0.15},{"t":29.5,"e":0.65,"u":0.2},{"t":29.625,"e":0.1,"u":0.02},{"t":29.75,"e":-0.3,"u":-0.25},{"t":29.875,"e":-0.6,"u":-0.1},{"t":30,"e":-0.8,"u":0.05},
{"t":30.125,"e":-0.1,"u":0.1},{"t":30.25,"e":0.4,"u":0.2},{"t":30.375,"e":0.1,"u":0.05},{"t":30.5,"e":-0.2,"u":-0.15},{"t":30.625,"e":0.02,"u":0.05},{"t":30.75,"e":0.3,"u":0.25},{"t":30.875,"e":0.02,"u":0.05},{"t":31,"e":-0.35,"u":-0.1},{"t":31.125,"e":0.02,"u":0.02},{"t":31.25,"e":0.45,"u":0.15},{"t":31.375,"e":0.1,"u":0.05},{"t":31.5,"e":-0.2,"u":-0.05},{"t":31.625,"e":0.1,"u":0.1},{"t":31.75,"e":0.3,"u":0.2},{"t":31.875,"e":-0.4,"u":0.02},{"t":32,"e":-0.99,"u":-0.1},{"t":32.125,"e":-0.3,"u":0.1},{"t":32.25,"e":0.2,"u":0.25},{"t":32.375,"e":0.4,"u":0.05},{"t":32.5,"e":0.6,"u":-0.15},{"t":32.625,"e":0.1,"u":0.02},{"t":32.75,"e":-0.3,"u":0.1},{"t":32.875,"e":0.02,"u":0.02},{"t":33,"e":0.35,"u":-0.2},{"t":33.125,"e":0.02,"u":0.02},{"t":33.25,"e":-0.4,"u":0.15},{"t":33.375,"e":-0.1,"u":0.1},{"t":33.5,"e":0.25,"u":0.05},{"t":33.625,"e":-0.1,"u":0.02},{"t":33.75,"e":-0.5,"u":-0.1},{"t":33.875,"e":-0.1,"u":0.05},{"t":34,"e":0.3,"u":0.2},{"t":34.125,"e":0.02,"u":0.02},{"t":34.25,"e":-0.2,"u":-0.15},{"t":34.375,"e":0.1,"u":0.02},{"t":34.5,"e":0.4,"u":0.1},{"t":34.625,"e":0.5,"u":0.15},{"t":34.75,"e":0.75,"u":0.25},{"t":34.875,"e":-0.1,"u":0.05},{"t":35,"e":-0.88,"u":-0.1},{"t":35.125,"e":-0.2,"u":0.02},{"t":35.25,"e":0.3,"u":0.15},{"t":35.375,"e":0.5,"u":0.02},{"t":35.5,"e":0.68,"u":-0.2},{"t":35.625,"e":0.1,"u":0.02},{"t":35.75,"e":-0.5,"u":0.1},{"t":35.875,"e":-0.1,"u":0.2},{"t":36,"e":0.2,"u":0.3},{"t":36.125,"e":0.3,"u":0.05},{"t":36.25,"e":0.45,"u":-0.15},{"t":36.375,"e":-0.1,"u":0.02},{"t":36.5,"e":-0.6,"u":0.2},{"t":36.625,"e":-0.1,"u":0.05},{"t":36.75,"e":0.3,"u":-0.05},{"t":36.875,"e":0.02,"u":0.05},{"t":37,"e":-0.4,"u":0.15},{"t":37.125,"e":0.1,"u":0.02},{"t":37.25,"e":0.5,"u":-0.1},{"t":37.375,"e":0.1,"u":0.05},{"t":37.5,"e":-0.3,"u":0.2},{"t":37.625,"e":0.02,"u":0.02},{"t":37.75,"e":0.2,"u":-0.15},{"t":37.875,"e":0.4,"u":0.02},{"t":38,"e":0.6,"u":0.1},{"t":38.125,"e":0.1,"u":-0.05},{"t":38.25,"e":-0.45,"u":-0.2},{"t":38.375,"e":-0.1,"u":0.02},{"t":38.5,"e":0.3,"u":0.15},{"t":38.625,"e":-0.1,"u":0.25},{"t":38.75,"e":-0.5,"u":0.35},{"t":38.875,"e":0.1,"u":0.1},{"t":39,"e":0.68,"u":-0.1},{"t":39.125,"e":0.2,"u":0.05},{"t":39.25,"e":-0.3,"u":0.2},{"t":39.375,"e":0.02,"u":0.02},{"t":39.5,"e":0.35,"u":-0.15},{"t":39.625,"e":0.02,"u":0.02},{"t":39.75,"e":-0.4,"u":0.1},{"t":39.875,"e":0.2,"u":-0.05},{"t":40,"e":0.68,"u":-0.2},
{"t":40.125,"e":0.2,"u":0.02},{"t":40.25,"e":-0.3,"u":0.15},{"t":40.375,"e":0.02,"u":0.1},{"t":40.5,"e":0.2,"u":0.05},{"t":40.625,"e":-0.3,"u":0.02},{"t":40.75,"e":-0.8,"u":-0.1},{"t":40.875,"e":-0.2,"u":0.1},{"t":41,"e":0.4,"u":0.25},{"t":41.125,"e":0.5,"u":0.05},{"t":41.25,"e":0.6,"u":-0.15},{"t":41.375,"e":0.7,"u":0.02},{"t":41.5,"e":0.86,"u":0.2},{"t":41.625,"e":0.1,"u":0.05},{"t":41.75,"e":-0.6,"u":-0.05},{"t":41.875,"e":-0.2,"u":0.02},{"t":42,"e":0.2,"u":0.1},{"t":42.125,"e":0.02,"u":-0.05},{"t":42.25,"e":-0.3,"u":-0.2},{"t":42.375,"e":0.1,"u":0.02},{"t":42.5,"e":0.5,"u":0.15},{"t":42.625,"e":0.1,"u":0.1},{"t":42.75,"e":-0.4,"u":0.05},{"t":42.875,"e":0.02,"u":0.02},{"t":43,"e":0.55,"u":-0.1},{"t":43.125,"e":0.2,"u":0.05},{"t":43.25,"e":-0.2,"u":0.2},{"t":43.375,"e":0.1,"u":0.02},{"t":43.5,"e":0.35,"u":-0.15},{"t":43.625,"e":-0.1,"u":0.02},{"t":43.75,"e":-0.5,"u":0.1},{"t":43.875,"e":-0.1,"u":0.15},{"t":44,"e":0.3,"u":0.25},{"t":44.125,"e":0.02,"u":0.05},{"t":44.25,"e":-0.4,"u":-0.1},{"t":44.375,"e":-0.5,"u":0.02},{"t":44.5,"e":-0.7,"u":0.15},{"t":44.625,"e":-0.1,"u":0.02},{"t":44.75,"e":0.4,"u":-0.2},{"t":44.875,"e":0.02,"u":-0.05},{"t":45,"e":-0.3,"u":0.1},{"t":45.125,"e":-0.5,"u":0.05},{"t":45.25,"e":-0.65,"u":0.05},{"t":45.375,"e":-0.1,"u":-0.05},{"t":45.5,"e":0.3,"u":-0.15},{"t":45.625,"e":0.4,"u":0.05},{"t":45.75,"e":0.55,"u":0.2},{"t":45.875,"e":0.1,"u":0.05},{"t":46,"e":-0.35,"u":-0.1},{"t":46.125,"e":0.02,"u":0.02},{"t":46.25,"e":0.4,"u":0.15},{"t":46.375,"e":0.02,"u":0.05},{"t":46.5,"e":-0.5,"u":-0.05},{"t":46.625,"e":-0.1,"u":0.02},{"t":46.75,"e":0.3,"u":0.1},{"t":46.875,"e":0.02,"u":-0.05},{"t":47,"e":-0.4,"u":-0.2},{"t":47.125,"e":0.1,"u":0.02},{"t":47.25,"e":0.55,"u":0.15},{"t":47.375,"e":0.1,"u":0.1},{"t":47.5,"e":-0.3,"u":0.05},{"t":47.625,"e":0.02,"u":0.02},{"t":47.75,"e":0.4,"u":-0.1},{"t":47.875,"e":0.1,"u":0.05},{"t":48,"e":-0.25,"u":0.2},{"t":48.125,"e":0.02,"u":0.02},{"t":48.25,"e":0.3,"u":-0.15},{"t":48.375,"e":0.02,"u":0.02},{"t":48.5,"e":-0.5,"u":0.1},{"t":48.625,"e":-0.8,"u":-0.1},{"t":48.75,"e":-0.95,"u":-0.25},{"t":48.875,"e":-0.2,"u":0.02},{"t":49,"e":0.3,"u":0.15},{"t":49.125,"e":0.02,"u":0.02},{"t":49.25,"e":-0.3,"u":-0.1},{"t":49.375,"e":0.2,"u":0.05},{"t":49.5,"e":0.6,"u":0.2},{"t":49.625,"e":0.1,"u":0.05},{"t":49.75,"e":-0.7,"u":-0.05},{"t":49.875,"e":0.02,"u":0.05},{"t":50,"e":0.5,"u":0}
]
},
"resolve":{"scale":{"color":"independent"}},
"vconcat":[
{"width":870,"height":135,
 "title":{"text":"EKF vs. UKF - Recovered Attitude (Roll-Pitch-Yaw) Error","font":"Liberation Sans","fontSize":23,"fontWeight":"bold","color":"#000000","anchor":"middle","offset":10},
 "data":{"name":"p1"},
 "resolve":{"axis":{"x":"independent","y":"independent"}},
 "layer":[
  {"transform":[{"fold":["e","u"],"as":["s","v"]}],
   "mark":{"type":"line","strokeWidth":1.2,"clip":true,"opacity":0.9},
   "encoding":{
    "x":{"field":"t","type":"quantitative","scale":{"domain":[0,50],"nice":false,"zero":false},"axis":{"orient":"bottom","values":[0,5,10,15,20,25,30,35,40,45,50],"grid":true,"labelPadding":22,"labelFlush":false,"title":"time (s)","titleFontSize":22,"titlePadding":6}},
    "y":{"field":"v","type":"quantitative","scale":{"domain":[-1.5,1.5],"nice":false,"zero":false},"axis":{"orient":"left","values":[-1,0,1],"grid":true,"labelPadding":12,"title":"Δϕ (deg)","titleFont":"Liberation Serif","titleFontSize":24,"titlePadding":8}},
    "color":{"field":"s","type":"nominal","scale":{"domain":["e","u"],"range":["#0072BD","#D95319"]},"legend":{"orient":"none","legendX":769,"legendY":7,"title":null,"labelExpr":"datum.label == 'e' ? 'EKF' : 'UKF'","symbolType":"M-2,0H2","symbolSize":342,"symbolStrokeWidth":1.5,"symbolOffset":9,"labelOffset":14,"labelFontSize":17,"labelColor":"#000000","labelFont":"Liberation Sans","padding":6,"rowPadding":5,"fillColor":"white","strokeColor":"#262626"}}
   }},
  {"data":{"values":[{"x":5},{"x":10}]},
   "mark":{"type":"rule","strokeDash":[15,17],"strokeDashOffset":4,"strokeWidth":3,"color":"#262626","opacity":0.85},
   "encoding":{"x":{"field":"x","type":"quantitative","scale":{"domain":[0,50],"nice":false,"zero":false},"axis":null}}},
  {"data":{"values":[{"x":0,"y":0}]},
   "mark":{"type":"point","opacity":0},
   "encoding":{
    "x":{"field":"x","type":"quantitative","scale":{"domain":[0,50],"nice":false,"zero":false},"axis":{"orient":"top","values":[0,5,10,15,20,25,30,35,40,45,50],"labels":false,"grid":false,"title":null}},
    "y":{"field":"y","type":"quantitative","scale":{"domain":[-1.5,1.5],"nice":false,"zero":false},"axis":{"orient":"right","values":[-1,0,1],"labels":false,"grid":false,"title":null}}
   }}
 ]},
{"width":870,"height":135,
 "data":{"name":"p2"},
 "resolve":{"axis":{"x":"independent","y":"independent"}},
 "layer":[
  {"transform":[{"fold":["e","u"],"as":["s","v"]}],
   "mark":{"type":"line","strokeWidth":1.2,"clip":true,"opacity":0.9},
   "encoding":{
    "x":{"field":"t","type":"quantitative","scale":{"domain":[0,50],"nice":false,"zero":false},"axis":{"orient":"bottom","values":[0,5,10,15,20,25,30,35,40,45,50],"grid":true,"labelPadding":22,"labelFlush":false,"title":"time (s)","titleFontSize":22,"titlePadding":6}},
    "y":{"field":"v","type":"quantitative","scale":{"domain":[-1.5,1.5],"nice":false,"zero":false},"axis":{"orient":"left","values":[-1,0,1],"grid":true,"labelPadding":12,"title":"Δθ (deg)","titleFont":"Liberation Serif","titleFontSize":24,"titlePadding":8}},
    "color":{"field":"s","type":"nominal","scale":{"domain":["e","u"],"range":["#0072BD","#D95319"]},"legend":{"orient":"none","legendX":769,"legendY":7,"title":null,"labelExpr":"datum.label == 'e' ? 'EKF' : 'UKF'","symbolType":"M-2,0H2","symbolSize":342,"symbolStrokeWidth":1.5,"symbolOffset":9,"labelOffset":14,"labelFontSize":17,"labelColor":"#000000","labelFont":"Liberation Sans","padding":6,"rowPadding":5,"fillColor":"white","strokeColor":"#262626"}}
   }},
  {"data":{"values":[{"x":5},{"x":10}]},
   "mark":{"type":"rule","strokeDash":[15,17],"strokeDashOffset":4,"strokeWidth":3,"color":"#262626","opacity":0.85},
   "encoding":{"x":{"field":"x","type":"quantitative","scale":{"domain":[0,50],"nice":false,"zero":false},"axis":null}}},
  {"data":{"values":[{"x":0,"y":0}]},
   "mark":{"type":"point","opacity":0},
   "encoding":{
    "x":{"field":"x","type":"quantitative","scale":{"domain":[0,50],"nice":false,"zero":false},"axis":{"orient":"top","values":[0,5,10,15,20,25,30,35,40,45,50],"labels":false,"grid":false,"title":null}},
    "y":{"field":"y","type":"quantitative","scale":{"domain":[-1.5,1.5],"nice":false,"zero":false},"axis":{"orient":"right","values":[-1,0,1],"labels":false,"grid":false,"title":null}}
   }}
 ]},
{"width":870,"height":135,
 "data":{"name":"p3"},
 "resolve":{"axis":{"x":"independent","y":"independent"}},
 "layer":[
  {"transform":[{"fold":["e","u"],"as":["s","v"]}],
   "mark":{"type":"line","strokeWidth":1.2,"clip":true,"opacity":0.9},
   "encoding":{
    "x":{"field":"t","type":"quantitative","scale":{"domain":[0,50],"nice":false,"zero":false},"axis":{"orient":"bottom","values":[0,5,10,15,20,25,30,35,40,45,50],"grid":true,"labelPadding":22,"labelFlush":false,"title":"time (s)","titleFontSize":22,"titlePadding":6}},
    "y":{"field":"v","type":"quantitative","scale":{"domain":[-1.5,1.5],"nice":false,"zero":false},"axis":{"orient":"left","values":[-1,0,1],"grid":true,"labelPadding":12,"title":"Δψ (deg)","titleFont":"Liberation Serif","titleFontSize":24,"titlePadding":8}},
    "color":{"field":"s","type":"nominal","scale":{"domain":["e","u"],"range":["#0072BD","#D95319"]},"legend":{"orient":"none","legendX":769,"legendY":7,"title":null,"labelExpr":"datum.label == 'e' ? 'EKF' : 'UKF'","symbolType":"M-2,0H2","symbolSize":342,"symbolStrokeWidth":1.5,"symbolOffset":9,"labelOffset":14,"labelFontSize":17,"labelColor":"#000000","labelFont":"Liberation Sans","padding":6,"rowPadding":5,"fillColor":"white","strokeColor":"#262626"}}
   }},
  {"data":{"values":[{"x":0,"y":0}]},
   "mark":{"type":"point","opacity":0},
   "encoding":{
    "x":{"field":"x","type":"quantitative","scale":{"domain":[0,50],"nice":false,"zero":false},"axis":{"orient":"top","values":[0,5,10,15,20,25,30,35,40,45,50],"labels":false,"grid":false,"title":null}},
    "y":{"field":"y","type":"quantitative","scale":{"domain":[-1.5,1.5],"nice":false,"zero":false},"axis":{"orient":"right","values":[-1,0,1],"labels":false,"grid":false,"title":null}}
   }}
 ]}
]
}
